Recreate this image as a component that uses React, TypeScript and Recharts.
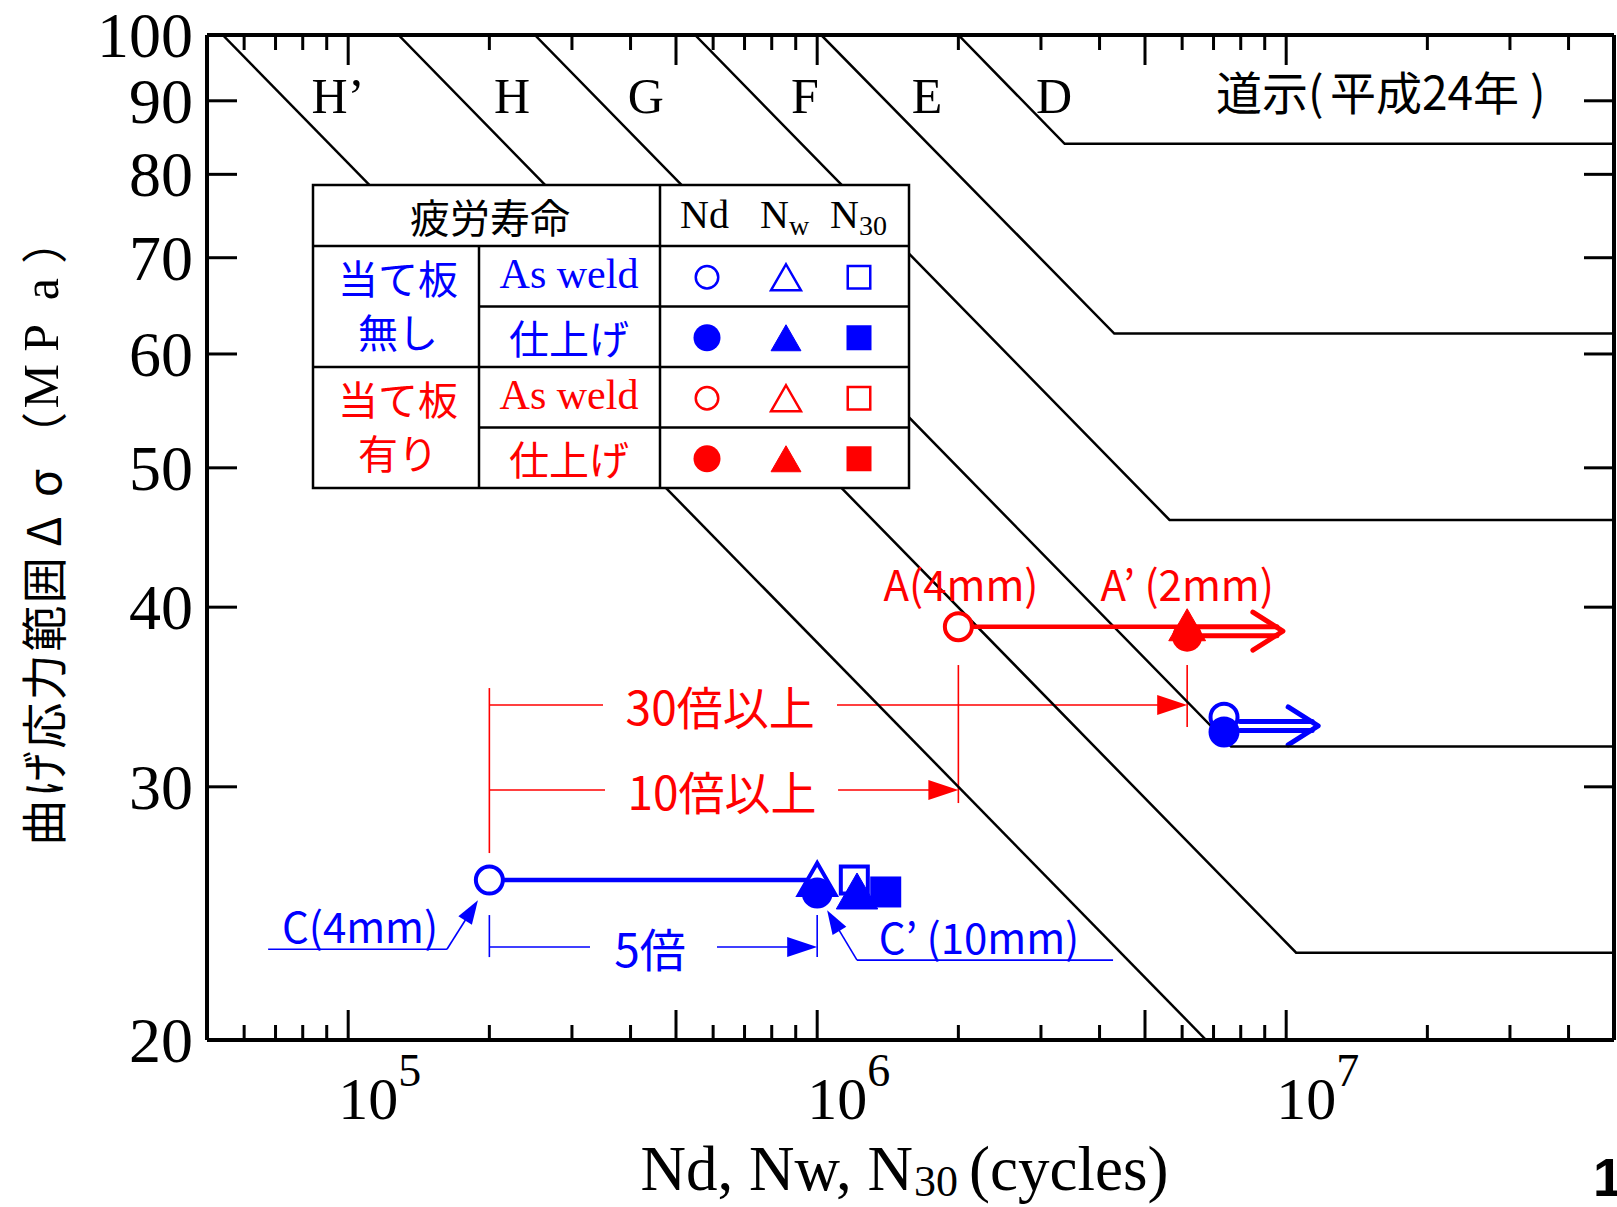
import React from 'react';
import { ComposedChart, Scatter, XAxis, YAxis, ReferenceLine } from 'recharts';

const W = 1617;
const H = 1207;
const SERIF = '"Liberation Serif", "Times New Roman", serif';
const SANS = '"Noto Sans CJK JP", "Noto Sans", sans-serif';
const BLUE = '#0000ff';
const RED = '#ff0000';
const BLACK = '#000000';

// ---------- axes ----------
const X_DOMAIN: [number, number] = [5e4, 5e7];
const Y_DOMAIN: [number, number] = [20, 100];
const X_TICKS = [6e4, 7e4, 8e4, 9e4, 1e5, 2e5, 3e5, 4e5, 5e5, 6e5, 7e5, 8e5, 9e5, 1e6, 2e6, 3e6, 4e6, 5e6, 6e6, 7e6, 8e6, 9e6, 1e7, 2e7, 3e7, 4e7];
const X_LONG_TICKS = [1e5, 5e5, 1e6, 5e6, 1e7];
const X_TICK_LABELS = [
  { value: 1e5, base: '10', exp: '5' },
  { value: 1e6, base: '10', exp: '6' },
  { value: 1e7, base: '10', exp: '7' },
];
const Y_TICKS = [20, 30, 40, 50, 60, 70, 80, 90, 100];
const Y_TITLE_CHARS = [
  { c: '曲', f: 'sans' }, { c: 'げ', f: 'sans' }, { c: '応', f: 'sans' }, { c: '力', f: 'sans' },
  { c: '範', f: 'sans' }, { c: '囲', f: 'sans' }, { c: 'Δ', f: 'sans' }, { c: 'σ', f: 'sans' },
  { c: '（', f: 'sans' }, { c: 'M', f: 'serif' }, { c: 'P', f: 'serif' }, { c: 'a', f: 'serif' }, { c: '）', f: 'sans' },
];

// ---------- design S-N curves (道示 H24) ----------
const CURVE_H_PRIME = [{ x: 5.4e4, y: 100 }, { x: 6.75e6, y: 20 }];
const CURVE_H = [{ x: 1.28e5, y: 100 }, { x: 1.05e7, y: 23 }, { x: 5e7, y: 23 }];
const CURVE_G = [{ x: 2.5e5, y: 100 }, { x: 7.63e6, y: 32 }, { x: 5e7, y: 32 }];
const CURVE_F = [{ x: 5.49e5, y: 100 }, { x: 5.64e6, y: 46 }, { x: 5e7, y: 46 }];
const CURVE_E = [{ x: 1.02e6, y: 100 }, { x: 4.3e6, y: 62 }, { x: 5e7, y: 62 }];
const CURVE_D = [{ x: 2.0e6, y: 100 }, { x: 3.37e6, y: 84 }, { x: 5e7, y: 84 }];
const CURVE_LABELS = [
  { x: 9.51e4, y: 88.26, text: 'H’' },
  { x: 2.236e5, y: 88.26, text: 'H' },
  { x: 4.31e5, y: 88.26, text: 'G' },
  { x: 9.42e5, y: 88.26, text: 'F' },
  { x: 1.715e6, y: 88.26, text: 'E' },
  { x: 3.2e6, y: 88.26, text: 'D' },
];

// ---------- test results ----------
const LINE_C = [{ x: 2.0e5, y: 25.84 }, { x: 1.0e6, y: 25.84 }];
const LINE_A = [{ x: 2.0e6, y: 38.77 }, { x: 6.15e6, y: 38.77 }];

const BLUE_ASWELD_ND = [{ x: 2.0e5, y: 25.84 }, { x: 7.37e6, y: 33.54 }];
const BLUE_ASWELD_NW = [{ x: 1.0e6, y: 25.88 }];
const BLUE_ASWELD_N30 = [{ x: 1.2e6, y: 25.84 }];
const BLUE_FIN_N30 = [{ x: 1.4e6, y: 25.35 }];
const BLUE_FIN_NW = [{ x: 1.216e6, y: 25.39 }];
const BLUE_FIN_ND = [{ x: 1.0e6, y: 25.31 }, { x: 7.37e6, y: 32.75 }];
const RED_ASWELD_ND = [{ x: 2.0e6, y: 38.77 }];
const RED_FIN_NW = [{ x: 6.15e6, y: 38.89 }];
const RED_FIN_ND = [{ x: 6.15e6, y: 38.15 }];

// run-out (not failed) arrows
const RUNOUT_RED = [{ x: 6.39e6, y: 38.49 }, { x: 9.84e6, y: 38.49 }];
const RUNOUT_BLUE = [{ x: 7.97e6, y: 33.07 }, { x: 1.17e7, y: 33.07 }];

// ---------- annotations ----------
const DIMENSIONS = [
  { y: 34.2, from: 2.0e5, gapFrom: 3.494e5, gapTo: 1.102e6, to: 6.15e6, textX: 6.21e5, text: '30倍以上', color: RED },
  { y: 29.85, from: 2.0e5, gapFrom: 3.529e5, gapTo: 1.108e6, to: 2.0e6, textX: 6.27e5, text: '10倍以上', color: RED },
  { y: 23.21, from: 2.0e5, gapFrom: 3.278e5, gapTo: 6.114e5, to: 1.0e6, textX: 4.4e5, text: '5倍', color: BLUE },
];
const EXTENSIONS = [
  { x: 2.0e5, y1: 35.14, y2: 26.98, color: RED },
  { x: 2.0e6, y1: 36.46, y2: 29.23, color: RED },
  { x: 6.15e6, y1: 36.46, y2: 33.01, color: RED },
  { x: 2.0e5, y1: 24.43, y2: 22.84, color: BLUE },
  { x: 1.0e6, y1: 24.43, y2: 22.84, color: BLUE },
];
const LEADERS = [
  { pts: [{ x: 6.75e4, y: 23.13 }, { x: 1.624e5, y: 23.13 }, { x: 1.891e5, y: 25.02 }], color: BLUE },
  { pts: [{ x: 4.274e6, y: 22.73 }, { x: 1.216e6, y: 22.73 }, { x: 1.05e6, y: 24.62 }], color: BLUE },
];
const CASE_LABELS_BLUE = [
  { x: 1.06e5, y: 23.36, text: 'C(4mm)' },
  { x: 2.213e6, y: 22.95, text: 'C’ (10mm)' },
];
const CASE_LABELS_RED = [
  { x: 2.026e6, y: 40.41, text: 'A(4mm)' },
  { x: 6.15e6, y: 40.41, text: 'A’ (2mm)' },
];

// ---------- drawing helpers ----------
function drawMarker(kind: string, cx: number, cy: number, color: string, s: number, sw: number) {
  if (cx == null || cy == null || isNaN(cx) || isNaN(cy)) return <g />;
  switch (kind) {
    case 'oc':
      return <circle cx={cx} cy={cy} r={s / 2 - sw / 2} fill="#fff" stroke={color} strokeWidth={sw} />;
    case 'fc':
      return <circle cx={cx} cy={cy} r={s / 2} fill={color} />;
    case 'ot':
    case 'ft': {
      const w = s * 1.15;
      const h = s;
      const pts = `${cx},${cy - h / 2} ${cx + w / 2},${cy + h / 2} ${cx - w / 2},${cy + h / 2}`;
      return kind === 'ot' ? (
        <polygon points={pts} fill="#fff" stroke={color} strokeWidth={sw} strokeLinejoin="miter" />
      ) : (
        <polygon points={pts} fill={color} stroke={color} strokeWidth={1} />
      );
    }
    case 'os':
      return <rect x={cx - s / 2 + sw / 2} y={cy - s / 2 + sw / 2} width={s - sw} height={s - sw} fill="#fff" stroke={color} strokeWidth={sw} />;
    case 'fs':
      return <rect x={cx - s / 2} y={cy - s / 2} width={s} height={s} fill={color} />;
    default:
      return <g />;
  }
}
const markerShape = (kind: string, color: string, s: number) => (p: any) => drawMarker(kind, p.cx, p.cy, color, s, 4);
const noShape = () => <g />;

const textShape = (family: string, size: number, color: string, baseline?: string) => (p: any) => (
  <text
    x={p.cx}
    y={p.cy}
    textAnchor="middle"
    dominantBaseline={baseline || 'auto'}
    fontFamily={family}
    fontSize={size}
    fill={color}
  >
    {p.payload.text}
  </text>
);

const segShape = (color: string, sw: number, head?: { len: number; half: number }) => (p: any) => {
  const { x1, y1, x2, y2 } = p;
  if (!head) return <line x1={x1} y1={y1} x2={x2} y2={y2} stroke={color} strokeWidth={sw} />;
  const dx = x2 - x1;
  const dy = y2 - y1;
  const L = Math.hypot(dx, dy) || 1;
  const ux = dx / L;
  const uy = dy / L;
  const bx = x2 - ux * head.len;
  const by = y2 - uy * head.len;
  const px = -uy * head.half;
  const py = ux * head.half;
  return (
    <g>
      <line x1={x1} y1={y1} x2={bx + ux * 2} y2={by + uy * 2} stroke={color} strokeWidth={sw} />
      <polygon points={`${x2},${y2} ${bx + px},${by + py} ${bx - px},${by - py}`} fill={color} />
    </g>
  );
};

const doubleArrowShape = (color: string) => (p: any) => {
  const { x1, y1, x2 } = p;
  const off = 4.5;
  return (
    <g stroke={color} strokeWidth={5} fill="none" strokeLinecap="round" strokeLinejoin="round">
      <line x1={x1} y1={y1 - off} x2={x2 - 6} y2={y1 - off} />
      <line x1={x1} y1={y1 + off} x2={x2 - 6} y2={y1 + off} />
      <polyline points={`${x2 - 30},${y1 - 19} ${x2},${y1} ${x2 - 30},${y1 + 19}`} />
    </g>
  );
};

// ---------- axis ticks ----------
const near = (a: number, b: number) => Math.abs(a - b) / b < 1e-9;
const XTickBottom = (p: any) => {
  const { x, y, payload } = p;
  const v = payload.value;
  const long = X_LONG_TICKS.some((t) => near(v, t));
  const lab = X_TICK_LABELS.find((t) => near(v, t.value));
  return (
    <g>
      <line x1={x} y1={y} x2={x} y2={y - (long ? 30 : 15)} stroke={BLACK} strokeWidth={3} />
      {lab && (
        <text x={x - 10} y={y + 79} fontFamily={SERIF} fontSize={60} fill={BLACK}>
          {lab.base}
          <tspan dx={0} dy={-33} fontSize={46}>
            {lab.exp}
          </tspan>
        </text>
      )}
    </g>
  );
};
const XTickTop = (p: any) => {
  const { x, y, payload } = p;
  const long = X_LONG_TICKS.some((t) => near(payload.value, t));
  return <line x1={x} y1={y} x2={x} y2={y + (long ? 30 : 15)} stroke={BLACK} strokeWidth={3} />;
};
const YTickLeft = (p: any) => {
  const { x, y, payload } = p;
  return (
    <g>
      <line x1={x} y1={y} x2={x + 30} y2={y} stroke={BLACK} strokeWidth={3} />
      <text x={x - 14} y={y + 22} textAnchor="end" fontFamily={SERIF} fontSize={64} fill={BLACK}>
        {payload.value}
      </text>
    </g>
  );
};
const YTickRight = (p: any) => {
  const { x, y } = p;
  return <line x1={x} y1={y} x2={x - 30} y2={y} stroke={BLACK} strokeWidth={3} />;
};

const XTitle = (p: any) => {
  const vb = p.viewBox || { x: 207, y: 1040, width: 1407, height: 160 };
  return (
    <text x={vb.x + vb.width / 2 - 6} y={vb.y + 150} textAnchor="middle" fontFamily={SERIF} fontSize={63} fill={BLACK}>
      Nd, Nw, N
      <tspan fontSize={44} dx={1} dy={6}>
        30
      </tspan>
      <tspan dx={11} dy={-6}>
        (cycles)
      </tspan>
    </text>
  );
};
const YTitle = (p: any) => {
  const vb = p.viewBox || { x: 7, y: 35, width: 200, height: 1005 };
  const cx = vb.x + 34;
  const pitch = 48.5;
  return (
    <text transform={`translate(${cx},847) rotate(-90)`} y={0} textAnchor="middle" dominantBaseline="central" fill={BLACK}>
      {Y_TITLE_CHARS.map((ch, i) => (
        <tspan
          key={i}
          x={(i + 0.5) * pitch}
          y={0}
          fontFamily={ch.f === 'serif' ? SERIF : SANS}
          fontSize={ch.f === 'serif' ? 50 : 46}
        >
          {ch.c}
        </tspan>
      ))}
    </text>
  );
};

// ---------- legend table (overlay) ----------
const LEGEND_GROUPS = [
  { l1: '当て板', l2: '無し', color: BLUE },
  { l1: '当て板', l2: '有り', color: RED },
];
const LEGEND_ROWS = ['As weld', '仕上げ'];
const LEGEND_KINDS = [
  ['oc', 'ot', 'os'],
  ['fc', 'ft', 'fs'],
];

const LegendTable = () => {
  const x0 = 313, x1 = 479, x2 = 660, x3 = 909;
  const y0 = 185, yh = 246, ye = 488;
  const rowH = (ye - yh) / 4;
  const markX = [707, 786, 859];
  return (
    <svg width={W} height={H} style={{ position: 'absolute', left: 0, top: 0, pointerEvents: 'none' }}>
      <rect x={x0} y={y0} width={x3 - x0} height={ye - y0} fill="#fff" stroke={BLACK} strokeWidth={2.5} />
      <line x1={x0} y1={yh} x2={x3} y2={yh} stroke={BLACK} strokeWidth={2.5} />
      <line x1={x1} y1={yh + rowH} x2={x3} y2={yh + rowH} stroke={BLACK} strokeWidth={2.5} />
      <line x1={x0} y1={yh + rowH * 2} x2={x3} y2={yh + rowH * 2} stroke={BLACK} strokeWidth={2.5} />
      <line x1={x1} y1={yh + rowH * 3} x2={x3} y2={yh + rowH * 3} stroke={BLACK} strokeWidth={2.5} />
      <line x1={x1} y1={yh} x2={x1} y2={ye} stroke={BLACK} strokeWidth={2.5} />
      <line x1={x2} y1={y0} x2={x2} y2={ye} stroke={BLACK} strokeWidth={2.5} />
      <text x={490} y={216} textAnchor="middle" dominantBaseline="central" fontFamily={SANS} fontSize={40} fill={BLACK}>
        疲労寿命
      </text>
      <text x={680} y={228} fontFamily={SERIF} fontSize={40} fill={BLACK}>Nd</text>
      <text x={760} y={228} fontFamily={SERIF} fontSize={40} fill={BLACK}>
        N<tspan fontSize={28} dy={7}>w</tspan>
      </text>
      <text x={830} y={228} fontFamily={SERIF} fontSize={40} fill={BLACK}>
        N<tspan fontSize={28} dy={7}>30</tspan>
      </text>
      {LEGEND_GROUPS.map((g, gi) => {
        const gy = yh + gi * rowH * 2;
        return (
          <g key={gi}>
            <text x={398} y={gy + 31} textAnchor="middle" dominantBaseline="central" fontFamily={SANS} fontSize={40} fill={g.color}>
              {g.l1}
            </text>
            <text x={398} y={gy + 85} textAnchor="middle" dominantBaseline="central" fontFamily={SANS} fontSize={40} fill={g.color}>
              {g.l2}
            </text>
            {LEGEND_ROWS.map((r, ri) => {
              const cy = gy + ri * rowH + rowH / 2;
              return (
                <g key={ri}>
                  {ri === 0 ? (
                    <text x={569} y={cy + 12} textAnchor="middle" fontFamily={SERIF} fontSize={42} fill={g.color}>
                      {r}
                    </text>
                  ) : (
                    <text x={569} y={cy} textAnchor="middle" dominantBaseline="central" fontFamily={SANS} fontSize={40} fill={g.color}>
                      {r}
                    </text>
                  )}
                  {LEGEND_KINDS[ri].map((k, ki) => (
                    <g key={ki}>{drawMarker(k, markX[ki], cy + 1, g.color, k === 'ot' || k === 'ft' ? 26 : k === 'fc' ? 27 : 25, 2.5)}</g>
                  ))}
                </g>
              );
            })}
          </g>
        );
      })}
      <text y={110} fontFamily={SANS} fontSize={46} fill={BLACK}>
        <tspan x={1216}>道示</tspan>
        <tspan x={1308}>(</tspan>
        <tspan x={1330}>平成24年</tspan>
        <tspan x={1530}>)</tspan>
      </text>
      <text x={1593} y={1196} fontFamily='"Liberation Sans", Arial, sans-serif' fontWeight="bold" fontSize={54} fill={BLACK}>
        1
      </text>
    </svg>
  );
};

const CURVES = [CURVE_H_PRIME, CURVE_H, CURVE_G, CURVE_F, CURVE_E, CURVE_D];

export default function App() {
  return (
    <div style={{ position: 'absolute', left: 0, top: 0, width: W, height: H, background: '#fff' }}>
      <ComposedChart width={W} height={H} margin={{ top: 5, right: 0, bottom: 7, left: 7 }}>
        <XAxis
          dataKey="x"
          type="number"
          scale="log"
          domain={X_DOMAIN}
          allowDataOverflow
          ticks={X_TICKS}
          interval={0}
          tickLine={false}
          tickSize={0}
          tickMargin={0}
          height={160}
          axisLine={{ stroke: BLACK, strokeWidth: 4 }}
          tick={XTickBottom}
          label={XTitle}
        />
        <XAxis
          xAxisId="top"
          orientation="top"
          dataKey="x"
          type="number"
          scale="log"
          domain={X_DOMAIN}
          allowDataOverflow
          ticks={X_TICKS}
          interval={0}
          tickLine={false}
          tickSize={0}
          tickMargin={0}
          height={30}
          axisLine={{ stroke: BLACK, strokeWidth: 4 }}
          tick={XTickTop}
        />
        <YAxis
          dataKey="y"
          type="number"
          scale="log"
          domain={Y_DOMAIN}
          allowDataOverflow
          ticks={Y_TICKS}
          interval={0}
          tickLine={false}
          tickSize={0}
          tickMargin={0}
          width={200}
          axisLine={{ stroke: BLACK, strokeWidth: 4 }}
          tick={YTickLeft}
          label={YTitle}
        />
        <YAxis
          yAxisId="right"
          orientation="right"
          dataKey="y"
          type="number"
          scale="log"
          domain={Y_DOMAIN}
          allowDataOverflow
          ticks={Y_TICKS}
          interval={0}
          tickLine={false}
          tickSize={0}
          tickMargin={0}
          width={3}
          axisLine={{ stroke: BLACK, strokeWidth: 4 }}
          tick={YTickRight}
        />

        {CURVES.map((c, i) => (
          <Scatter key={`c${i}`} data={c} line={{ stroke: BLACK, strokeWidth: 2.5 }} fill="none" shape={noShape} isAnimationActive={false} />
        ))}
        <Scatter data={CURVE_LABELS} shape={textShape(SERIF, 50, BLACK)} isAnimationActive={false} />

        {DIMENSIONS.map((d, i) => (
          <ReferenceLine key={`dl${i}`} segment={[{ x: d.from, y: d.y }, { x: d.gapFrom, y: d.y }]} shape={segShape(d.color, 1.6)} />
        ))}
        {DIMENSIONS.map((d, i) => (
          <ReferenceLine key={`dr${i}`} segment={[{ x: d.gapTo, y: d.y }, { x: d.to, y: d.y }]} shape={segShape(d.color, 1.6, { len: 30, half: 10 })} />
        ))}
        {EXTENSIONS.map((e, i) => (
          <ReferenceLine key={`e${i}`} segment={[{ x: e.x, y: e.y1 }, { x: e.x, y: e.y2 }]} shape={segShape(e.color, 1.6)} />
        ))}
        {LEADERS.map((l, i) => (
          <ReferenceLine key={`la${i}`} segment={[l.pts[0], l.pts[1]]} shape={segShape(l.color, 1.6)} />
        ))}
        {LEADERS.map((l, i) => (
          <ReferenceLine key={`lb${i}`} segment={[l.pts[1], l.pts[2]]} shape={segShape(l.color, 1.6, { len: 24, half: 8 })} />
        ))}
        <ReferenceLine segment={[RUNOUT_RED[0], RUNOUT_RED[1]]} shape={doubleArrowShape(RED)} />
        <ReferenceLine segment={[RUNOUT_BLUE[0], RUNOUT_BLUE[1]]} shape={doubleArrowShape(BLUE)} />

        <Scatter data={DIMENSIONS.filter((d) => d.color === RED).map((d) => ({ x: d.textX, y: d.y, text: d.text }))} shape={textShape(SANS, 46, RED, 'central')} isAnimationActive={false} />
        <Scatter data={DIMENSIONS.filter((d) => d.color === BLUE).map((d) => ({ x: d.textX, y: d.y, text: d.text }))} shape={textShape(SANS, 46, BLUE, 'central')} isAnimationActive={false} />
        <Scatter data={CASE_LABELS_BLUE} shape={textShape(SANS, 42, BLUE)} isAnimationActive={false} />
        <Scatter data={CASE_LABELS_RED} shape={textShape(SANS, 42, RED)} isAnimationActive={false} />

        <Scatter data={LINE_C} line={{ stroke: BLUE, strokeWidth: 4.5 }} fill="none" shape={noShape} isAnimationActive={false} />
        <Scatter data={LINE_A} line={{ stroke: RED, strokeWidth: 4.5 }} fill="none" shape={noShape} isAnimationActive={false} />

        <Scatter data={BLUE_FIN_N30} shape={markerShape('fs', BLUE, 31)} isAnimationActive={false} />
        <Scatter data={BLUE_ASWELD_N30} shape={markerShape('os', BLUE, 31)} isAnimationActive={false} />
        <Scatter data={BLUE_FIN_NW} shape={markerShape('ft', BLUE, 36)} isAnimationActive={false} />
        <Scatter data={BLUE_ASWELD_NW} shape={markerShape('ot', BLUE, 32)} isAnimationActive={false} />
        <Scatter data={BLUE_ASWELD_ND} shape={markerShape('oc', BLUE, 31)} isAnimationActive={false} />
        <Scatter data={BLUE_FIN_ND} shape={markerShape('fc', BLUE, 31)} isAnimationActive={false} />
        <Scatter data={RED_ASWELD_ND} shape={markerShape('oc', RED, 31)} isAnimationActive={false} />
        <Scatter data={RED_FIN_NW} shape={markerShape('ft', RED, 32)} isAnimationActive={false} />
        <Scatter data={RED_FIN_ND} shape={markerShape('fc', RED, 30)} isAnimationActive={false} />
      </ComposedChart>
      <LegendTable />
    </div>
  );
}
